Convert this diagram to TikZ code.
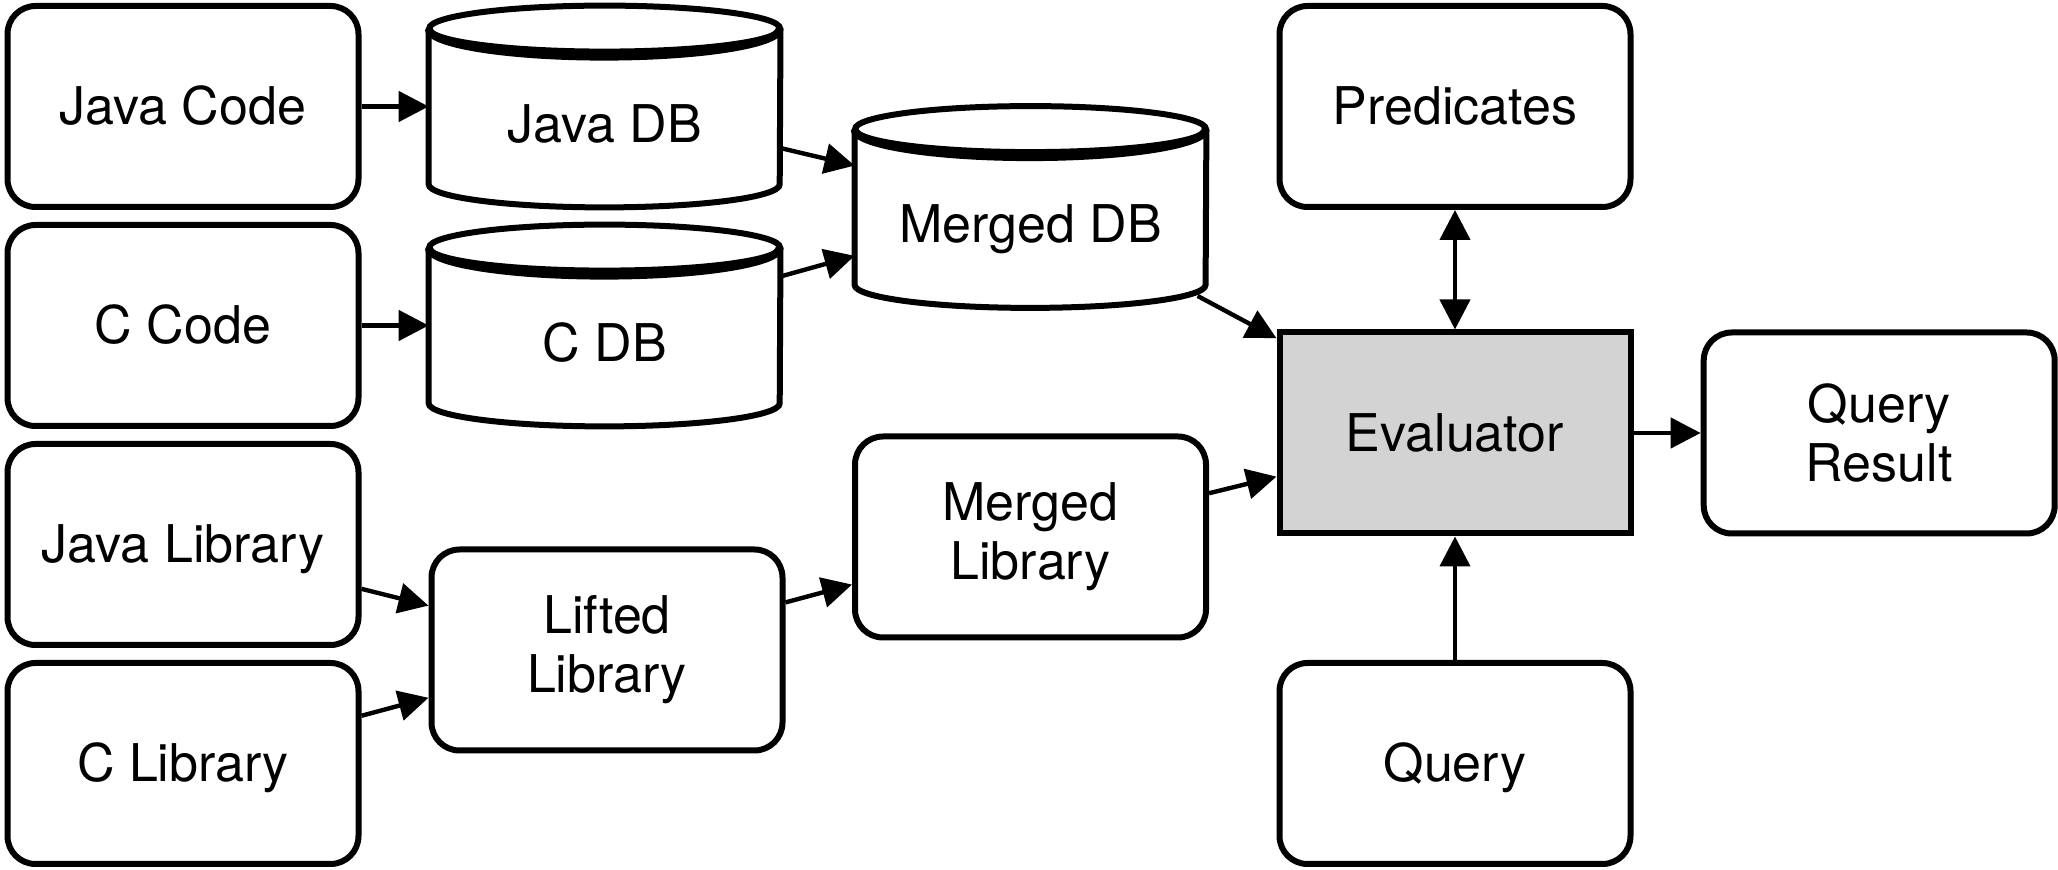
\documentclass[tikz,border=0pt]{standalone}
\usepackage{fontspec}
\setmainfont{TeX Gyre Heros}
\usetikzlibrary{positioning,arrows.meta}
\definecolor{evalgray}{RGB}{211,211,211}

\begin{document}
\begin{tikzpicture}[%
	x=0.5pt, y=-0.5pt,
	font=\fontsize{26}{29.5}\selectfont,
	align=center,
	>={Triangle[length=15pt,width=15pt]},
	node distance=6pt and 33.6pt,
	box/.style={%
		draw,
		rounded corners=14pt,
		line width=3pt,
		minimum width=175.5pt,
		minimum height=100.5pt,
		inner sep=0pt
	},
	oneline/.style={%
		box,
		text height=18.5pt,
		text depth=0pt
	},
	dbnode/.style={%
		minimum width=175.5pt,
		minimum height=100.5pt,
		inner sep=0pt,
		text height=36pt,
		text depth=0pt
	},
	dbline/.style={line width=3pt},
	flow/.style={->, line width=2.2pt}
	]
	\useasboundingbox (0,0) rectangle (2058,870);

	% sources
	\node[oneline] (jcode) at (183,106.5) {Java Code};
	\node[oneline] (ccode) [below=of jcode] {C Code};
	\node[oneline] (jlib) [below=of ccode] {Java Library};
	\node[oneline] (clib) [below=of jlib] {C Library};

	% databases
	\node[dbnode] (jdb) [right=of jcode] {Java DB};
	\node[dbnode] (cdb) [right=of ccode] {C DB};
	\node[dbnode] (mdb) at (1030.5,207) {Merged DB};

	\node[box] (lifted) at (607,650) {Lifted\\Library};
	\node[box] (mlib) at (1030.5,537) {Merged\\Library};

	\node[box, sharp corners, fill=evalgray] (eval) at (1455,433) {Evaluator};
	\node[oneline] (pred) at (1455,106.5) {Predicates};
	\node[oneline] (query) at (1455,763.5) {Query};
	\node[box] (qres) [right=of eval] {Query\\Result};

	% cylinder outlines
	\foreach \n in {jdb,cdb,mdb}{
		\draw[dbline] ([yshift=-11.5pt]\n.north west) -- ([yshift=11.5pt]\n.south west)
			arc[start angle=180, end angle=360, x radius=87.75pt, y radius=11.5pt]
			-- ([yshift=-11.5pt]\n.north east);
		\draw[dbline] ([yshift=-11.5pt]\n.north) ellipse[x radius=87.75pt, y radius=11.5pt];
		\draw[dbline, line width=4pt] ([yshift=-11.5pt]\n.north west)
			arc[start angle=180, end angle=360, x radius=87.75pt, y radius=14pt];
	}

	\draw[flow] (jcode) -- (jdb);
	\draw[flow] (ccode) -- (cdb);
	\draw[flow] (jdb) -- (mdb);
	\draw[flow] (cdb) -- (mdb);
	\draw[flow] (jlib) -- (lifted);
	\draw[flow] (clib) -- (lifted);
	\draw[flow] (lifted) -- (mlib);
	\draw[flow, shorten <=-5pt] (mdb) -- (eval);
	\draw[flow] (mlib) -- (eval);
	\draw[flow] (eval) -- (qres);
	\draw[flow, <->] (pred) -- (eval);
	\draw[flow] (query) -- (eval);
\end{tikzpicture}
\end{document}
